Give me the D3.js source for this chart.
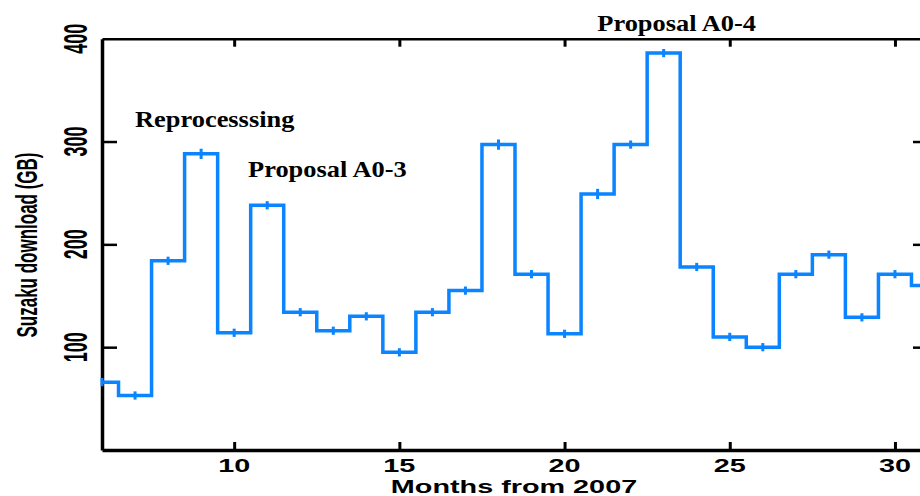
<html>
<head>
    <script src="https://d3js.org/d3.v7.min.js"></script>
    <style>
        body { margin: 0; background: white; }
        svg { display: block; }
        .lbl { font-family: "Liberation Sans", Arial, sans-serif; font-weight: bold; fill: black; }
        .note { font-family: "Liberation Serif", "Times New Roman", serif; font-weight: bold; font-size: 24px; fill: black; }
    </style>
</head>
<body>
    <svg id="chart" width="920" height="496"></svg>
    <script>
        // monthly Suzaku download volume (GB), months counted from 2007
        const months = [6, 7, 8, 9, 10, 11, 12, 13, 14, 15, 16, 17, 18, 19, 20, 21, 22, 23, 24, 25, 26, 27, 28, 29, 30, 31];
        const download = [66, 53, 184, 288, 114, 238, 134, 116, 130, 95, 134, 155, 297, 171, 113, 249, 297, 386, 178, 110, 100, 171, 190, 129, 171, 160];
        const errors = [4, 4, 4, 5, 4, 4, 4, 4, 4, 4, 4, 4, 5, 4, 4, 5, 4, 4, 4, 4, 4, 4, 4, 4, 4, 4];
        const xTicks = [10, 15, 20, 25, 30];
        const yTicks = [100, 200, 300, 400];
        const notes = [
            {text: "Reprocesssing", month: 7.0, gb: 314},
            {text: "Proposal A0-3", month: 10.42, gb: 265.5},
            {text: "Proposal A0-4", month: 20.99, gb: 407.5}
        ];

        const svg = d3.select("#chart");
        const x = d3.scaleLinear().domain([6, 31]).range([102, 928]);
        const y = d3.scaleLinear().domain([0, 400]).range([450, 38.7]);

        const frame = svg.append("g");

        // bottom axis, ticks pointing up
        frame.append("g")
            .attr("transform", "translate(0," + y(0) + ")")
            .call(d3.axisTop(x).tickValues(xTicks).tickSize(8).tickSizeOuter(0).tickFormat(""))
            .call(g => g.select(".domain").attr("stroke-width", 3.5))
            .call(g => g.selectAll(".tick line").attr("stroke-width", 3));

        // top axis, ticks pointing down
        frame.append("g")
            .attr("transform", "translate(0," + y(400) + ")")
            .call(d3.axisBottom(x).tickValues(xTicks).tickSize(8).tickSizeOuter(0).tickFormat(""))
            .call(g => g.select(".domain").attr("stroke-width", 2.5))
            .call(g => g.selectAll(".tick line").attr("stroke-width", 3));

        // left axis, ticks pointing in
        frame.append("g")
            .attr("transform", "translate(" + x(6) + ",0)")
            .call(d3.axisRight(y).tickValues([100, 200, 300]).tickSize(15).tickSizeOuter(0).tickFormat(""))
            .call(g => g.select(".domain").attr("stroke-width", 3.5))
            .call(g => g.selectAll(".tick line").attr("stroke-width", 2.5));

        // right axis (falls just outside the picture)
        frame.append("g")
            .attr("transform", "translate(" + x(31) + ",0)")
            .call(d3.axisLeft(y).tickValues([100, 200, 300]).tickSize(15).tickSizeOuter(0).tickFormat(""))
            .call(g => g.select(".domain").attr("stroke-width", 3))
            .call(g => g.selectAll(".tick line").attr("stroke-width", 2.5));

        // tick labels, the plot is stretched sideways so the text is too
        svg.selectAll(".xlab").data(xTicks).join("text")
            .attr("class", "lbl")
            .attr("text-anchor", "middle")
            .style("font-size", "18px")
            .attr("transform", d => "translate(" + x(d) + ",472) scale(1.6,1)")
            .text(d => d);

        svg.selectAll(".ylab").data(yTicks).join("text")
            .attr("class", "lbl")
            .attr("text-anchor", "middle")
            .style("font-size", "18px")
            .attr("transform", d => "translate(87," + y(d) + ") scale(1.85,1) rotate(-90)")
            .text(d => d);

        svg.append("text")
            .attr("class", "lbl")
            .attr("text-anchor", "middle")
            .style("font-size", "18px")
            .attr("transform", "translate(514,493) scale(1.6,1)")
            .text("Months from 2007");

        svg.append("text")
            .attr("class", "lbl")
            .attr("text-anchor", "middle")
            .style("font-size", "17px")
            .attr("transform", "translate(37,245) scale(1.7,1) rotate(-90)")
            .text("Suzaku download (GB)");

        // step histogram
        const data = months.map((m, i) => ({m: m, v: download[i], e: errors[i]}));
        const blue = "#0a84ff";

        const line = d3.line()
            .x(d => x(d.m))
            .y(d => y(d.v))
            .curve(d3.curveStep);

        svg.append("path")
            .datum(data)
            .attr("fill", "none")
            .attr("stroke", blue)
            .attr("stroke-width", 3.5)
            .attr("d", line);

        svg.selectAll(".err").data(data).join("line")
            .attr("stroke", blue)
            .attr("stroke-width", 3)
            .attr("x1", d => x(d.m))
            .attr("x2", d => x(d.m))
            .attr("y1", d => y(d.v - d.e))
            .attr("y2", d => y(d.v + d.e));

        svg.selectAll(".note").data(notes).join("text")
            .attr("class", "note")
            .attr("transform", d => "translate(" + x(d.month) + "," + y(d.gb) + ") scale(1.1,1)")
            .text(d => d.text);
    </script>
</body>
</html>
